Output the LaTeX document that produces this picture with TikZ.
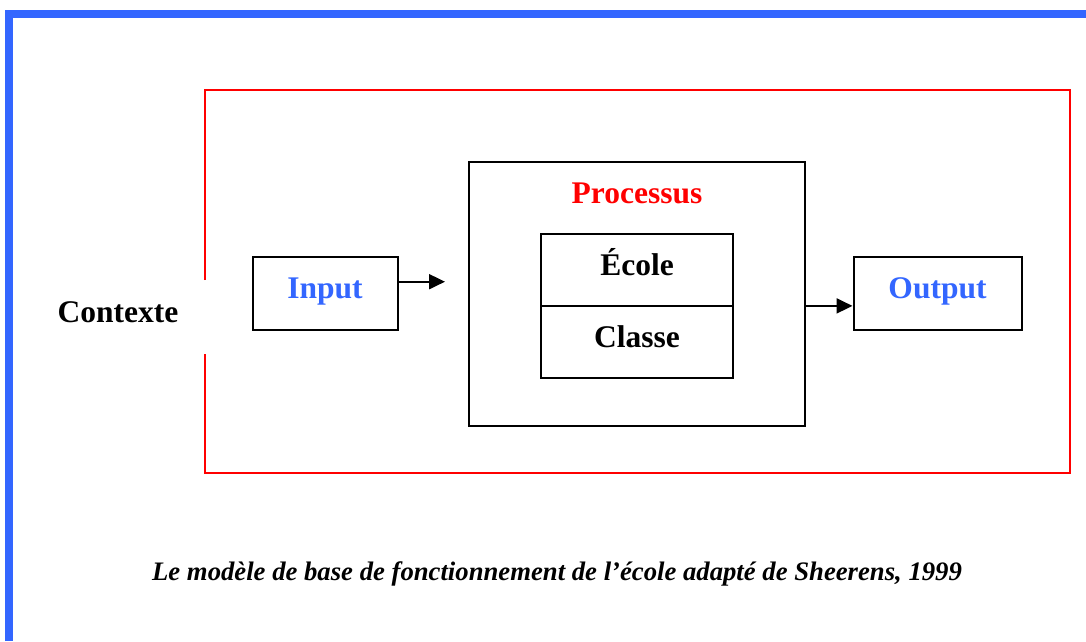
\documentclass[tikz,border=0pt]{standalone}
\usepackage{fontspec}
\setmainfont{Liberation Serif}
\usepackage{tikz}
\usetikzlibrary{arrows.meta}
\usepackage{xcolor}
\definecolor{ColBlue}{RGB}{51,102,255}
\definecolor{ColRed}{RGB}{255,0,0}
\tikzstyle{BigText}=[font=\fontsize{31.5}{36}\selectfont\bfseries,inner sep=0pt]
\tikzstyle{BoxNode}=[draw=black,line width=2pt,inner sep=0pt,text height=22pt,text depth=11.5pt,BigText]
\tikzstyle{ArrowEdge}=[black,line width=2pt,-{Triangle[length=16pt,width=15pt]}]
\tikzstyle{FrameRed}=[ColRed,line width=2pt]

\begin{document}
\begin{tikzpicture}[x=1pt,y=-1pt]
        \useasboundingbox(0,0)rectangle(1086,641);
        \draw[ColBlue,line width=7.5pt](8.75,641)--(8.75,13.75)--(1086,13.75);
        \draw[FrameRed](205,280)--(205,90)--(1070,90)--(1070,473)--(205,473)--(205,354);
        \node[BigText](ctx)at(118,312){Contexte};
        \node[BoxNode,minimum width=145pt,minimum height=73pt,text=ColBlue](in)at(325,293.6){Input};
        \node[BoxNode,minimum width=336pt,minimum height=264pt](proc)at(637,294){};
        \node[BigText,text=ColRed](proctitle)at(637,193){Processus};
        \node[BoxNode,minimum width=192pt,minimum height=72pt](ecole)at(637,270){École};
        \node[BoxNode,minimum width=192pt,minimum height=72pt](classe)at(637,342){Classe};
        \node[BoxNode,minimum width=168pt,minimum height=73pt,text=ColBlue](out)at(937.5,293.6){Output};
        \coordinate(inend)at(445,281.7);
        \coordinate(outin)at([yshift=-12.3pt]out.west);
        \draw[ArrowEdge](in.east|-inend)--(inend);
        \draw[ArrowEdge](proc.east|-outin)--(outin);
        \node[font=\fontsize{26.7}{30}\selectfont\bfseries\itshape,inner sep=0pt](caption)at(557,574)
            {Le modèle de base de fonctionnement de l’école adapté de Sheerens, 1999};
    \end{tikzpicture}
\end{document}
